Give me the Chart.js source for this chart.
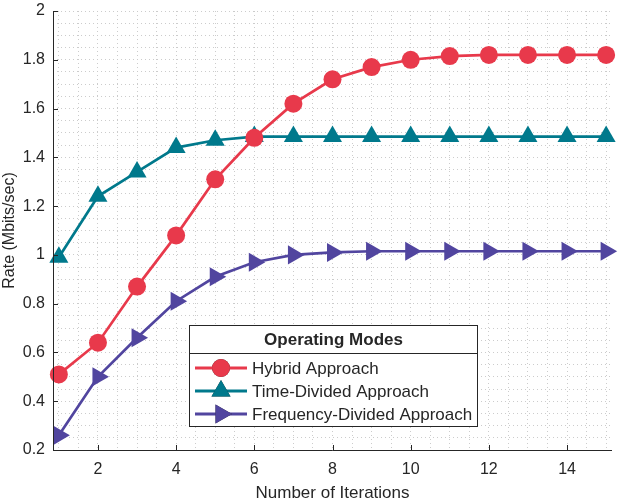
<!DOCTYPE html>
<html>
<head>
<meta charset="utf-8">
<script src="https://cdn.jsdelivr.net/npm/chart.js@4.4.0/dist/chart.umd.min.js"></script>
<style>
  html, body { margin: 0; padding: 0; background: #fff; }
  #wrap { width: 623px; height: 500px; position: relative; }
</style>
</head>
<body>
<div id="wrap"><canvas id="rateChart"></canvas></div>
<script>
// values
const iterations = [1, 2, 3, 4, 5, 6, 7, 8, 9, 10, 11, 12, 13, 14, 15];
const hybrid = [0.51, 0.64, 0.87, 1.08, 1.31, 1.48, 1.62, 1.72, 1.77, 1.80, 1.815, 1.82, 1.82, 1.82, 1.82];
const timeDivided = [0.99, 1.24, 1.34, 1.44, 1.47, 1.485, 1.485, 1.485, 1.485, 1.485, 1.485, 1.485, 1.485, 1.485, 1.485];
const freqDivided = [0.26, 0.50, 0.66, 0.81, 0.91, 0.97, 1.00, 1.01, 1.015, 1.015, 1.015, 1.015, 1.015, 1.015, 1.015];
const seriesNames = ['Hybrid Approach', 'Time-Divided Approach', 'Frequency-Divided Approach'];
const legendTitle = 'Operating Modes';
const xTickLabels = [2, 4, 6, 8, 10, 12, 14];
const yTickLabels = [0.2, 0.4, 0.6, 0.8, 1, 1.2, 1.4, 1.6, 1.8, 2];

const FONT = '"Liberation Sans", Arial, sans-serif';
const INK = '#262626';
const GRID = '#cccccc';
const colors = ['#e8394b', '#00798c', '#51459f'];

const toPoints = arr => iterations.map((x, i) => ({ x: x, y: arr[i] }));

// axes + inward ticks + boxed legend
const decorations = {
    id: 'decorations',
    afterDraw(chart) {
        const ctx = chart.ctx;
        const a = chart.chartArea;
        const xs = chart.scales.x, ys = chart.scales.y;
        ctx.save();
        ctx.strokeStyle = INK;
        ctx.lineWidth = 1;
        ctx.beginPath();
        ctx.moveTo(a.left + 0.5, a.top);
        ctx.lineTo(a.left + 0.5, a.bottom + 0.5);
        ctx.lineTo(a.right, a.bottom + 0.5);
        ctx.stroke();
        ctx.beginPath();
        xTickLabels.forEach(v => {
            const px = Math.round(xs.getPixelForValue(v)) + 0.5;
            ctx.moveTo(px, a.bottom);
            ctx.lineTo(px, a.bottom - 5);
        });
        yTickLabels.forEach(v => {
            const py = Math.round(ys.getPixelForValue(v)) + 0.5;
            ctx.moveTo(a.left, py);
            ctx.lineTo(a.left + 5, py);
        });
        ctx.stroke();

        // legend
        const L = 189.5, T = 325.5, W = 288, H = 101;
        ctx.fillStyle = '#fff';
        ctx.fillRect(L, T, W, H);
        ctx.strokeRect(L, T, W, H);
        ctx.beginPath();
        ctx.moveTo(L, 353.5);
        ctx.lineTo(L + W, 353.5);
        ctx.stroke();
        ctx.fillStyle = INK;
        ctx.font = 'bold 17px ' + FONT;
        ctx.textAlign = 'center';
        ctx.textBaseline = 'middle';
        ctx.fillText(legendTitle, L + W / 2, 340);
        ctx.font = '17px ' + FONT;
        ctx.textAlign = 'left';
        chart.data.datasets.forEach((ds, i) => {
            const y = 368 + i * 23;
            ctx.strokeStyle = ds.borderColor;
            ctx.lineWidth = 3;
            ctx.beginPath();
            ctx.moveTo(195, y);
            ctx.lineTo(247, y);
            ctx.stroke();
            Chart.helpers.drawPoint(ctx, {
                pointStyle: ds.pointStyle,
                rotation: ds.pointRotation || 0,
                radius: ds.pointRadius,
                borderWidth: 0
            }, 221, y);
            ctx.fillStyle = ds.borderColor;
            ctx.fill();
            ctx.fillStyle = INK;
            ctx.fillText(ds.label, 252, y + 1);
        });
        ctx.restore();
    }
};

const styles = [
    { pointStyle: 'circle', pointRadius: 9, pointRotation: 0 },
    { pointStyle: 'triangle', pointRadius: 11, pointRotation: 0 },
    { pointStyle: 'triangle', pointRadius: 11, pointRotation: 90 }
];

const ctx = document.getElementById('rateChart').getContext('2d');
new Chart(ctx, {
    type: 'line',
    data: {
        datasets: [hybrid, timeDivided, freqDivided].map((arr, i) => ({
            label: seriesNames[i],
            data: toPoints(arr),
            borderColor: colors[i],
            backgroundColor: colors[i],
            pointBackgroundColor: colors[i],
            pointBorderColor: colors[i],
            pointBorderWidth: 0,
            borderWidth: 2.7,
            tension: 0,
            clip: false,
            pointStyle: styles[i].pointStyle,
            pointRadius: styles[i].pointRadius,
            pointRotation: styles[i].pointRotation
        }))
    },
    options: {
        responsive: true,
        maintainAspectRatio: false,
        animation: false,
        devicePixelRatio: 1,
        layout: { padding: { top: 6, right: 6, left: 0, bottom: 0 } },
        plugins: {
            legend: { display: false },
            tooltip: { enabled: false }
        },
        scales: {
            x: {
                type: 'linear',
                min: 0.85,
                max: 15.15,
                afterBuildTicks: scale => {
                    const t = [];
                    for (let k = 2; k <= 30; k++) t.push({ value: k / 2 });
                    scale.ticks = t;
                },
                afterFit: scale => {
                    scale.height = 50;
                    scale.paddingLeft = 0;
                    scale.paddingRight = 0;
                },
                grid: { color: GRID, lineWidth: 1, drawTicks: false },
                border: { display: false, dash: [1, 3] },
                ticks: {
                    autoSkip: false,
                    maxRotation: 0,
                    padding: 10,
                    color: INK,
                    font: { family: FONT, size: 16 },
                    callback: v => xTickLabels.includes(v) ? String(v) : ''
                },
                title: {
                    display: true,
                    text: 'Number of Iterations',
                    color: INK,
                    font: { family: FONT, size: 17 },
                    padding: { top: 0, bottom: -4 }
                }
            },
            y: {
                min: 0.2,
                max: 2,
                afterBuildTicks: scale => {
                    const t = [];
                    for (let k = 4; k <= 40; k++) t.push({ value: Math.round(k * 5) / 100 });
                    scale.ticks = t;
                },
                afterFit: scale => {
                    scale.width = 53;
                    scale.paddingTop = 0;
                    scale.paddingBottom = 0;
                },
                grid: { color: GRID, lineWidth: 1, drawTicks: false },
                border: { display: false, dash: [1, 3] },
                ticks: {
                    autoSkip: false,
                    padding: 8,
                    color: INK,
                    font: { family: FONT, size: 16 },
                    callback: v => yTickLabels.some(y => Math.abs(y - v) < 1e-6) ? String(+v.toFixed(1)) : ''
                },
                title: {
                    display: true,
                    text: 'Rate (Mbits/sec)',
                    color: INK,
                    font: { family: FONT, size: 16 },
                    padding: { top: 0, bottom: 2 }
                }
            }
        }
    },
    plugins: [decorations]
});
</script>
</body>
</html>
